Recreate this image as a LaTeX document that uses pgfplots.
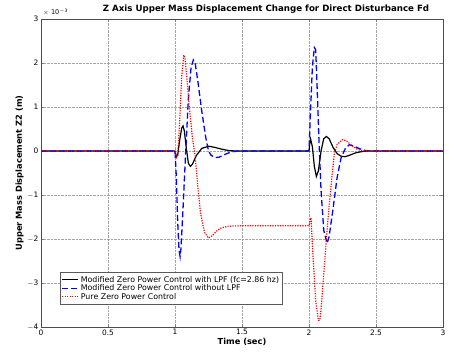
\documentclass[border=0pt]{standalone}
\usepackage{pgfplots}
\pgfplotsset{compat=1.18}
\usepackage{fontspec}
\setmainfont{DejaVu Sans}
\begin{document}
\begin{tikzpicture}[x=1bp,y=1bp]
\begin{axis}[
  name=ax,
  scale only axis, width=402bp, height=308bp,
  xmin=0, xmax=3, ymin=-4, ymax=3,
  xtick={0,0.5,...,3}, ytick={-4,-3,...,3},
  xticklabels={0,0.5,1,1.5,2,2.5,3},
  yticklabels={$-$4,$-$3,$-$2,$-$1,0,1,2,3},
  /pgf/number format/assume math mode=true,
  ticklabel style={font=\fontsize{7.5}{8}\selectfont},
  xticklabel style={yshift=1bp},
  yticklabel style={xshift=1bp},
  grid=major, major grid style={gray!70, densely dotted, line width=0.4pt},
  tick align=inside, major tick length=3bp,
  axis line style={gray!60!black, line width=0.5pt},
  title={\bfseries Z Axis Upper Mass Displacement Change for Direct Disturbance Fd},
  title style={font=\fontsize{8.7}{9}\selectfont, at={(0.5,1)}, anchor=base, yshift=2bp, xshift=24bp},
  xlabel={\bfseries Time (sec)}, ylabel={\bfseries Upper Mass Displacement Z2 (m)},
  label style={font=\fontsize{8.3}{9}\selectfont},
  xlabel style={yshift=4bp}, ylabel style={yshift=-3bp},
  legend style={at={(rel axis cs:0.047,0.074)}, anchor=south west, font=\fontsize{7.9}{8.5}\selectfont, draw=gray!70!black, inner sep=1.5bp, row sep=-3bp, cells={anchor=west}},
  legend image code/.code={\draw[#1] (0cm,0cm) -- (16bp,0cm);},
  clip mode=individual,
]
\addplot[black, line width=1.2pt] coordinates {
(0,0) (1.0,0) (1.01,-0.12) (1.02,-0.1) (1.035,0.25) (1.05,0.52) (1.06,0.57) (1.07,0.45) (1.085,0.05) (1.1,-0.28) (1.115,-0.35) (1.13,-0.3) (1.16,-0.1) (1.2,0.06) (1.25,0.11) (1.3,0.08) (1.35,0.04) (1.4,0.01) (1.45,0) (2.0,0) (2.005,0.15) (2.012,0.27) (2.025,0.1) (2.04,-0.35) (2.055,-0.58) (2.07,-0.45) (2.09,0.0) (2.11,0.28) (2.13,0.33) (2.15,0.28) (2.18,0.08) (2.21,-0.06) (2.24,-0.12) (2.27,-0.13) (2.3,-0.1) (2.35,-0.04) (2.4,-0.01) (2.45,0) (3,0)};
\addlegendentry{Modified Zero Power Control with LPF (fc=2.86 hz)}
\addplot[blue, line width=1.3pt, dash pattern=on 6bp off 3bp] coordinates {
(0,0) (1.0,0) (1.01,-0.6) (1.02,-1.6) (1.03,-2.25) (1.038,-2.4) (1.045,-2.2) (1.06,-1.3) (1.08,0.0) (1.1,1.2) (1.12,1.9) (1.137,2.07) (1.15,2.0) (1.17,1.6) (1.2,0.9) (1.23,0.3) (1.25,0.0) (1.27,-0.1) (1.3,-0.15) (1.33,-0.14) (1.37,-0.08) (1.42,-0.02) (1.47,0) (2.0,0) (2.01,0.8) (2.025,1.9) (2.04,2.35) (2.05,2.3) (2.06,1.5) (2.075,0.2) (2.09,-0.9) (2.11,-1.8) (2.135,-2.1) (2.15,-1.95) (2.18,-1.3) (2.21,-0.6) (2.24,-0.15) (2.27,0.05) (2.3,0.14) (2.33,0.12) (2.37,0.06) (2.42,0.01) (2.47,0) (3,0)};
\addlegendentry{Modified Zero Power Control without LPF}
\addplot[red, line width=1.2pt, dash pattern=on 1.2bp off 1.3bp] coordinates {
(0,0) (1.0,0) (1.01,-0.15) (1.02,-0.1) (1.035,0.7) (1.05,1.7) (1.065,2.18) (1.075,2.1) (1.09,1.6) (1.11,0.9) (1.13,0.3) (1.15,-0.1) (1.17,-0.8) (1.19,-1.4) (1.22,-1.85) (1.25,-1.98) (1.28,-1.92) (1.31,-1.82) (1.35,-1.74) (1.4,-1.71) (1.5,-1.7) (2.0,-1.7) (2.01,-1.55) (2.015,-1.52) (2.03,-2.4) (2.05,-3.4) (2.07,-3.85) (2.08,-3.85) (2.09,-3.6) (2.11,-2.8) (2.14,-1.6) (2.17,-0.6) (2.19,-0.05) (2.21,0.15) (2.25,0.26) (2.28,0.23) (2.32,0.12) (2.36,0.04) (2.4,0.0) (3,0)};
\addlegendentry{Pure Zero Power Control}
\end{axis}
\node[anchor=south west, font=\fontsize{6.5}{7}\selectfont, inner sep=0pt] at ([xshift=2bp,yshift=3bp]ax.north west) {$\times$ 10\textsuperscript{$-$3}};
\path[use as bounding box] ([xshift=-41bp,yshift=-28bp]ax.south west) rectangle ([xshift=6bp,yshift=19bp]ax.north east);
\end{tikzpicture}
\end{document}
